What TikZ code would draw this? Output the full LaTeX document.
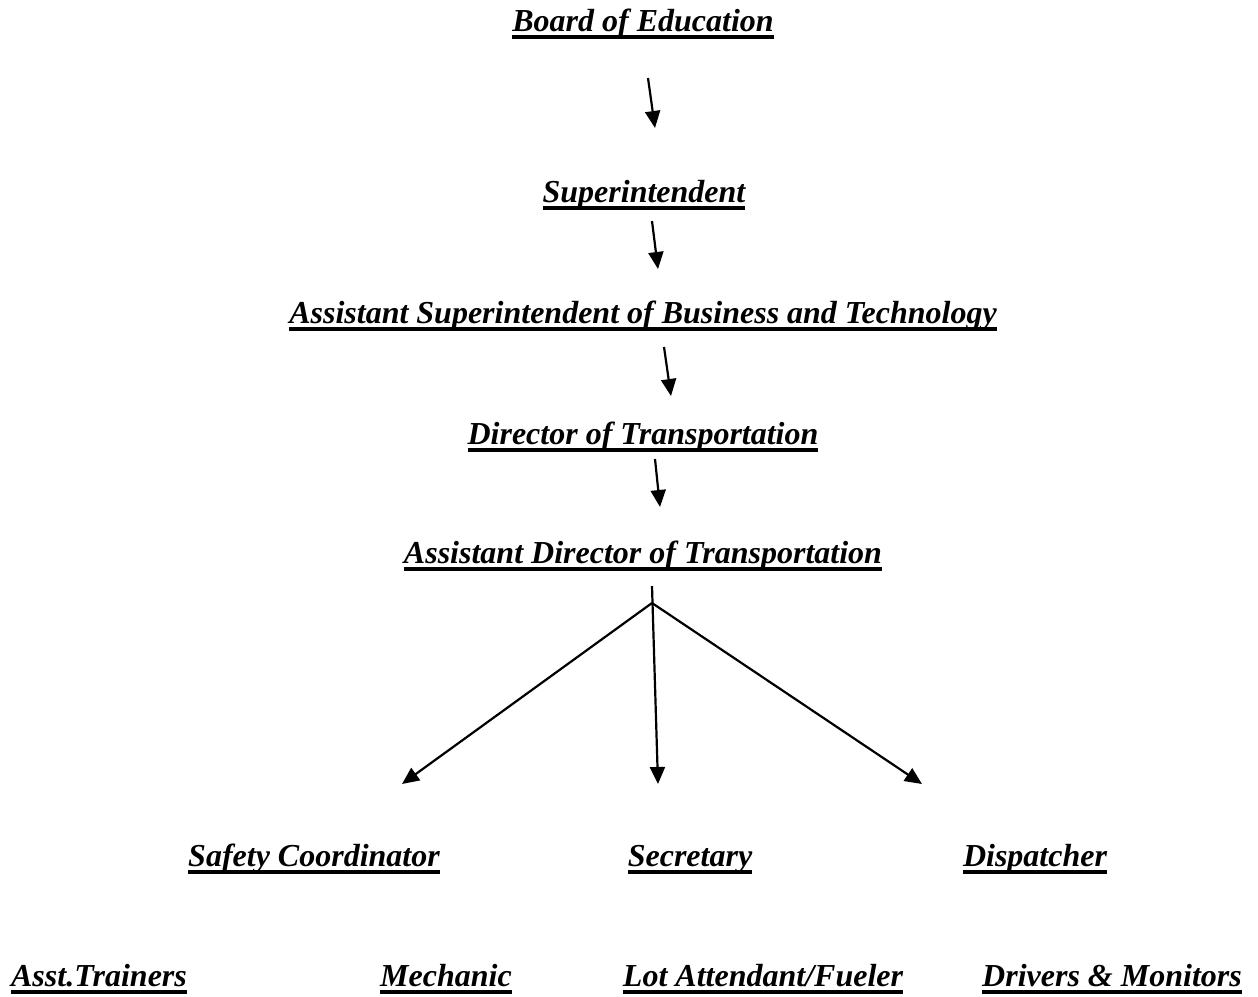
\documentclass[tikz,border=0pt]{standalone}
\usepackage{fontspec}
\setmainfont{Liberation Serif}
\usetikzlibrary{arrows.meta}
\newcommand{\ulbox}[1]{\setbox0\hbox{#1}\rlap{\rule[-7.5pt]{\wd0}{4pt}}\box0}
\tikzset{
  post/.style={text=black,font=\fontsize{32}{36}\selectfont\bfseries\itshape,
    anchor=base,inner sep=0pt},
  link/.style={line width=2.2pt,-{Triangle[length=17pt,width=15pt]}}
}
\begin{document}
\begin{tikzpicture}[x=1pt,y=-1pt]
      \useasboundingbox (0,0) rectangle (1258,996);
      \draw
        (643,31) node[post] (board){\ulbox{Board of Education}}
        (644,202) node[post] (super){\ulbox{Superintendent}}
        (643,323) node[post] (asup){\ulbox{Assistant Superintendent of Business and Technology}}
        (643,444) node[post] (dir){\ulbox{Director of Transportation}}
        (643,563) node[post] (adir){\ulbox{Assistant Director of Transportation}}
        (314,866) node[post] (safety){\ulbox{Safety Coordinator}}
        (690,866) node[post] (sec){\ulbox{Secretary}}
        (1035,866) node[post] (disp){\ulbox{Dispatcher}}
        (99,986) node[post] (train){\ulbox{Asst.Trainers}}
        (446,986) node[post] (mech){\ulbox{Mechanic}}
        (763,986) node[post] (lot){\ulbox{Lot Attendant/Fueler}}
        (1112,986) node[post] (drv){\ulbox{Drivers \& Monitors}};
      \coordinate (a1) at (648,78);   \coordinate (b1) at (655,128);
      \coordinate (a2) at (652,221);  \coordinate (b2) at (658,269);
      \coordinate (a3) at (664,347);  \coordinate (b3) at (671,396);
      \coordinate (a4) at (655,459);  \coordinate (b4) at (660,507);
      \coordinate (top) at (652,586); \coordinate (fork) at (652,603);
      \coordinate (l) at (402,784);   \coordinate (m) at (658,784);
      \coordinate (r) at (922,784);
      \begin{scope}[link]
        \draw (a1) to (b1);
        \draw (a2) to (b2);
        \draw (a3) to (b3);
        \draw (a4) to (b4);
        \draw (top) to (m);
        \draw (fork) to (l);
        \draw (fork) to (r);
      \end{scope}
    \end{tikzpicture}
\end{document}
